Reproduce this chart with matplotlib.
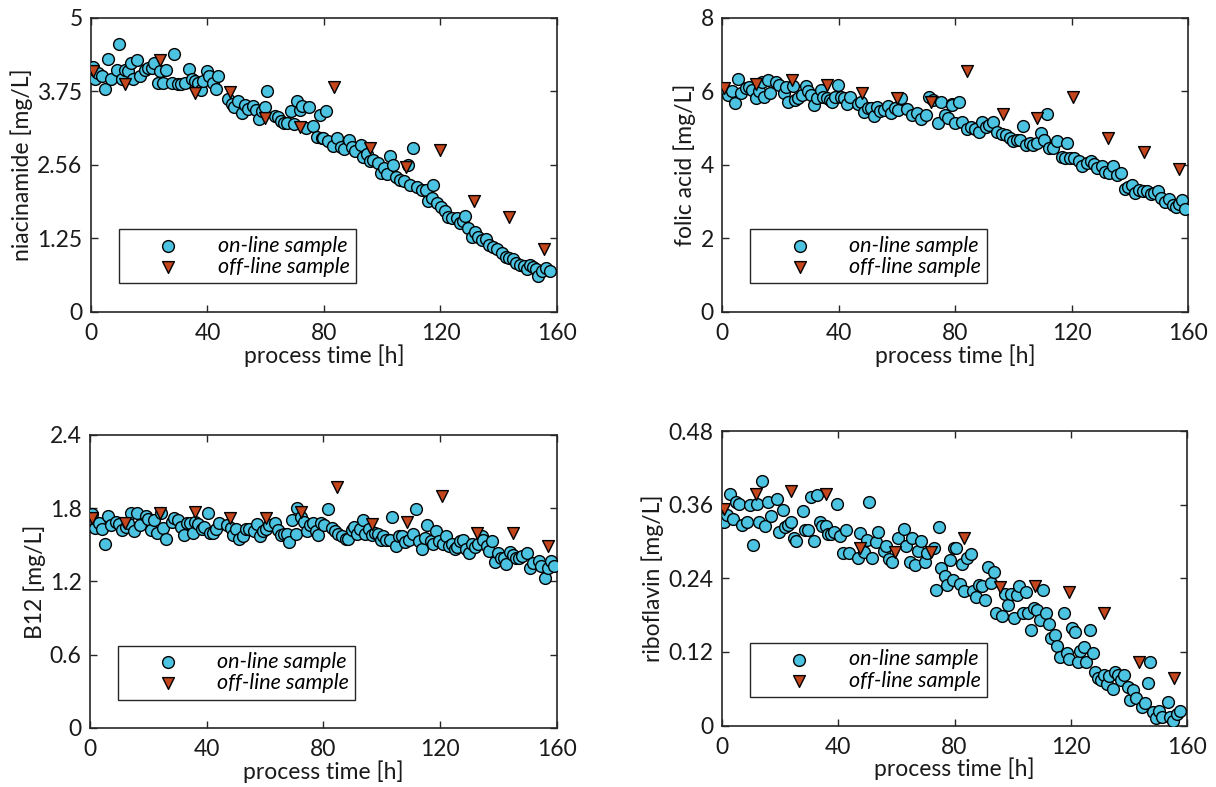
import matplotlib
matplotlib.use("Agg")
import matplotlib.pyplot as plt

plt.rcParams['font.family'] = ['Lato', 'DejaVu Sans']
plt.rcParams['font.size'] = 16.5

ONLINE_C = "#4cc3e1"
OFFLINE_C = "#c4461d"
AX_C = "#262626"
TXT_C = "#1a1a1a"

# ---- niacinamide ----
nia_on_t = [0.8, 1.4, 2.5, 3.7, 4.8, 5.7, 6.9, 8.8, 9.6, 10.8, 11.7, 12.8, 13.6, 14.5,
            15.7, 16.8, 18.5, 19.7, 20.8, 21.7, 22.9, 23.7, 24.8, 25.8, 27.7, 28.6,
            29.8, 30.8, 32.3, 33.8, 34.6, 35.7, 36.9, 37.8, 38.6, 39.9, 40.6, 41.8,
            42.8, 43.7, 47.2, 48.3, 49.2, 50.6, 51.7, 52.9, 53.8, 55.7, 56.5, 57.7,
            58.6, 59.7, 60.5, 63.2, 64.1, 65.2, 66.3, 67.4, 68.6, 69.8, 70.6, 71.8,
            72.6, 73.7, 74.9, 76.3, 77.5, 78.6, 79.4, 80.7, 79.8, 81.5, 83.2, 84.6,
            85.8, 86.9, 88.7, 89.8, 90.7, 92.6, 93.5, 94.7, 95.8, 97.0, 98.7, 99.5,
            100.6, 101.8, 102.7, 103.6, 104.8, 106.1, 107.5, 108.7, 109.5, 110.7,
            111.8, 113.5, 114.9, 115.8, 117.0, 117.5, 118.9, 120.1, 121.5, 122.7,
            123.8, 125.6, 126.7, 127.9, 128.6, 129.6, 130.7, 131.9, 133.0, 134.2,
            135.5, 136.8, 138.1, 139.5, 141.0, 142.4, 143.6, 145.0, 146.1, 147.3,
            148.6, 149.6, 150.7, 151.9, 152.8, 153.6, 154.8, 156.2, 157.6]
nia_on_v = [4.17, 3.96, 4.06, 4.01, 3.80, 4.31, 3.97, 4.11, 4.55, 3.97, 4.11, 4.09, 4.23,
            3.97, 4.28, 4.01, 4.11, 4.15, 4.15, 4.24, 3.90, 4.09, 3.90, 4.11, 3.90, 4.39,
            3.88, 3.88, 3.90, 4.14, 3.96, 3.92, 3.90, 3.78, 3.93, 4.09, 4.02, 3.89, 3.80,
            4.02, 3.62, 3.53, 3.49, 3.59, 3.39, 3.52, 3.46, 3.51, 3.44, 3.28, 3.41, 3.48,
            3.76, 3.33, 3.31, 3.25, 3.22, 3.22, 3.42, 3.19, 3.58, 3.43, 3.50, 3.12, 3.49,
            3.16, 2.98, 3.35, 2.95, 3.42, 2.96, 2.90, 2.82, 2.95, 2.81, 2.77, 2.92, 2.81,
            2.74, 2.84, 2.64, 2.69, 2.56, 2.59, 2.53, 2.37, 2.44, 2.35, 2.66, 2.50, 2.30,
            2.24, 2.22, 2.50, 2.16, 2.79, 2.13, 2.07, 2.07, 1.88, 1.93, 2.16, 1.85, 1.79,
            1.71, 1.62, 1.59, 1.59, 1.51, 1.55, 1.63, 1.42, 1.28, 1.36, 1.28, 1.23, 1.24,
            1.14, 1.11, 1.07, 1.00, 0.94, 0.91, 0.90, 0.83, 0.80, 0.79, 0.73, 0.80, 0.76,
            0.73, 0.61, 0.70, 0.74, 0.69]
nia_off_t = [0.8, 11.7, 23.7, 35.7, 47.7, 59.7, 71.8, 83.5, 95.8, 108.1, 119.8, 131.5,
             143.6, 155.6]
nia_off_v = [4.09, 3.88, 4.28, 3.73, 3.74, 3.30, 3.14, 3.83, 2.79, 2.46, 2.75, 1.89,
             1.62, 1.07]

# ---- folic acid ----
fol_on_t = [1.0, 2.0, 3.3, 4.5, 5.6, 6.5, 8.2, 9.4, 10.4, 11.6, 12.7, 13.6, 14.5, 15.7,
            16.6, 18.4, 19.7, 21.1, 22.0, 22.8, 24.3, 25.1, 26.2, 27.6, 28.7, 29.6,
            30.6, 31.7, 32.5, 33.9, 34.8, 36.0, 36.9, 37.9, 38.8, 39.9, 40.9, 41.9,
            42.8, 44.0, 46.8, 47.7, 48.9, 50.0, 51.2, 52.0, 53.1, 54.3, 55.7, 56.9,
            58.0, 59.4, 60.3, 61.3, 63.4, 65.1, 66.8, 68.3, 69.9, 71.1, 72.6, 74.1,
            75.2, 76.6, 77.7, 79.1, 78.9, 81.2, 80.0, 82.3, 84.0, 85.4, 86.9, 88.2,
            89.4, 90.6, 91.8, 93.2, 94.3, 96.0, 97.4, 98.7, 100.0, 101.2, 102.3, 103.5,
            104.4, 105.7, 106.9, 108.2, 109.4, 110.5, 111.5, 112.4, 113.8, 115.1, 116.6,
            118.3, 117.8, 119.5, 120.9, 122.4, 123.7, 125.2, 126.6, 127.7, 128.9, 130.4,
            131.5, 133.0, 134.4, 135.5, 136.9, 138.4, 139.5, 140.7, 141.8, 143.0, 144.5,
            145.8, 147.2, 148.4, 149.8, 150.6, 152.1, 153.6, 154.7, 155.9, 157.0, 157.8,
            159.0]
fol_on_v = [6.04, 5.91, 6.00, 5.68, 6.33, 5.95, 6.09, 6.11, 6.04, 5.81, 6.00, 6.27, 5.84,
            6.31, 5.97, 6.27, 6.18, 5.97, 6.11, 5.70, 6.15, 5.77, 5.81, 5.89, 6.15, 6.02,
            5.91, 5.62, 5.83, 6.04, 5.86, 5.83, 5.77, 5.71, 5.84, 6.18, 5.86, 5.81, 5.66,
            5.86, 5.65, 5.72, 5.45, 5.56, 5.56, 5.33, 5.58, 5.46, 5.49, 5.60, 5.42, 5.54,
            5.49, 5.81, 5.52, 5.36, 5.41, 5.25, 5.36, 5.86, 5.77, 5.15, 5.72, 5.36, 5.27,
            5.65, 5.63, 5.72, 5.13, 5.18, 4.99, 5.04, 4.99, 4.91, 5.18, 5.04, 5.10, 5.18,
            4.91, 4.84, 4.82, 4.73, 4.66, 4.68, 4.68, 5.07, 4.55, 4.59, 4.55, 4.59, 4.86,
            4.68, 5.40, 4.47, 4.46, 4.64, 4.23, 4.59, 4.18, 4.18, 4.18, 4.12, 3.98, 4.05,
            4.12, 4.03, 3.91, 3.98, 3.80, 3.77, 3.98, 3.73, 3.77, 3.34, 3.41, 3.46, 3.25,
            3.32, 3.30, 3.28, 3.21, 3.25, 3.28, 3.10, 2.98, 3.07, 2.91, 2.85, 2.93, 3.05,
            2.80]
fol_off_t = [0.5, 11.6, 23.9, 36.0, 47.9, 59.9, 71.9, 84.2, 96.4, 108.3, 120.6, 132.6,
             144.9, 157.0]
fol_off_v = [6.09, 6.20, 6.31, 6.18, 5.97, 5.83, 5.72, 6.56, 5.38, 5.27, 5.86, 4.73,
             4.36, 3.89]

# ---- B12 ----
b12_on_t = [0.8, 1.7, 3.1, 4.0, 5.1, 6.1, 7.2, 8.9, 10.0, 11.1, 12.2, 13.1, 14.0, 15.2,
            16.2, 17.2, 19.2, 20.0, 20.9, 22.0, 23.1, 24.3, 25.1, 26.0, 28.0, 28.9,
            30.0, 31.1, 32.2, 33.1, 34.3, 35.2, 36.0, 37.1, 38.3, 39.2, 40.3, 41.1,
            42.3, 43.2, 44.2, 46.8, 48.2, 49.1, 50.2, 51.2, 52.3, 53.4, 54.6, 56.3,
            57.3, 58.2, 59.2, 60.2, 61.3, 63.4, 64.5, 65.4, 66.6, 67.4, 68.3, 69.3,
            70.5, 71.1, 72.3, 73.4, 74.2, 75.4, 76.5, 77.3, 78.2, 79.1, 80.3, 81.7,
            83.0, 84.1, 85.1, 86.4, 87.6, 88.5, 89.7, 90.6, 91.6, 92.5, 93.4, 94.4,
            95.6, 96.5, 97.6, 98.6, 99.6, 100.5, 101.4, 102.8, 103.6, 104.8, 105.9,
            107.0, 108.1, 109.4, 110.8, 111.7, 112.7, 113.8, 114.7, 115.5, 116.7, 117.6,
            118.5, 119.7, 120.8, 121.9, 123.0, 123.9, 125.1, 125.9, 126.8, 127.7, 128.7,
            129.9, 130.8, 132.0, 133.1, 134.2, 134.7, 135.9, 136.8, 137.8, 138.8, 139.9,
            140.8, 141.8, 142.7, 143.9, 145.0, 146.1, 147.1, 148.1, 149.8, 150.7, 151.9,
            153.8, 154.7, 155.9, 156.8, 158.0, 159.1]
b12_on_v = [1.75, 1.64, 1.68, 1.63, 1.51, 1.74, 1.66, 1.69, 1.67, 1.62, 1.65, 1.68, 1.76,
            1.61, 1.76, 1.66, 1.74, 1.71, 1.62, 1.70, 1.60, 1.76, 1.64, 1.55, 1.69, 1.72,
            1.70, 1.65, 1.58, 1.68, 1.68, 1.60, 1.69, 1.67, 1.63, 1.65, 1.76, 1.60, 1.60,
            1.63, 1.68, 1.66, 1.64, 1.58, 1.63, 1.55, 1.57, 1.63, 1.63, 1.61, 1.67, 1.57,
            1.61, 1.63, 1.66, 1.68, 1.62, 1.58, 1.59, 1.59, 1.52, 1.70, 1.59, 1.80, 1.73,
            1.69, 1.61, 1.66, 1.68, 1.61, 1.58, 1.68, 1.66, 1.79, 1.64, 1.61, 1.59, 1.57,
            1.55, 1.55, 1.62, 1.65, 1.59, 1.63, 1.70, 1.59, 1.63, 1.58, 1.60, 1.59, 1.54,
            1.57, 1.54, 1.54, 1.73, 1.49, 1.57, 1.57, 1.52, 1.54, 1.59, 1.79, 1.53, 1.47,
            1.56, 1.66, 1.53, 1.51, 1.61, 1.53, 1.51, 1.57, 1.49, 1.51, 1.47, 1.48, 1.53,
            1.54, 1.47, 1.43, 1.51, 1.48, 1.51, 1.57, 1.54, 1.49, 1.45, 1.53, 1.36, 1.43,
            1.39, 1.39, 1.34, 1.44, 1.42, 1.39, 1.39, 1.41, 1.43, 1.31, 1.35, 1.37, 1.33,
            1.23, 1.31, 1.37, 1.33]
b12_off_t = [0.8, 12.0, 24.0, 36.0, 48.0, 60.2, 72.3, 84.5, 96.5, 108.7, 120.7, 132.7,
             144.8, 156.8]
b12_off_v = [1.72, 1.68, 1.76, 1.77, 1.72, 1.72, 1.77, 1.97, 1.67, 1.69, 1.90, 1.60,
             1.60, 1.49]

# ---- riboflavin ----
rib_on_t = [0.8, 1.6, 2.7, 3.9, 4.7, 5.8, 6.8, 8.7, 9.6, 10.8, 11.9, 12.7, 13.9, 14.8,
            15.7, 16.7, 18.8, 19.6, 20.8, 21.6, 22.6, 23.7, 24.7, 25.6, 27.7, 28.5,
            29.6, 30.6, 31.6, 32.7, 33.6, 34.4, 35.7, 36.5, 37.4, 38.6, 39.7, 40.5,
            41.7, 42.8, 43.7, 46.8, 47.6, 48.9, 49.7, 50.5, 51.7, 52.8, 53.7, 55.6,
            56.5, 57.3, 58.5, 60.5, 62.5, 63.4, 64.5, 65.5, 66.5, 67.4, 68.6, 69.7,
            70.5, 72.8, 73.5, 74.5, 75.4, 76.6, 77.5, 78.6, 79.3, 79.8, 80.6, 81.7,
            83.4, 82.6, 84.2, 85.5, 86.3, 87.4, 88.4, 89.5, 90.5, 91.5, 92.6, 93.5,
            94.3, 96.4, 97.2, 98.5, 99.5, 100.6, 101.5, 102.3, 103.5, 104.6, 105.4,
            106.4, 107.5, 108.3, 109.4, 110.6, 111.5, 112.4, 113.2, 114.5, 115.3, 116.4,
            117.6, 118.6, 119.5, 120.4, 121.4, 122.4, 123.3, 124.4, 125.2, 126.6, 127.5,
            128.3, 129.4, 130.4, 131.3, 132.3, 133.2, 134.4, 135.2, 136.1, 137.3, 138.4,
            139.6, 140.5, 141.5, 142.4, 144.5, 145.5, 146.4, 147.3, 148.4, 149.3, 150.4,
            151.5, 153.3, 154.2, 155.2, 156.4, 157.5]
rib_on_v = [0.332, 0.343, 0.377, 0.336, 0.364, 0.361, 0.327, 0.332, 0.359, 0.294, 0.361,
            0.332, 0.399, 0.326, 0.365, 0.342, 0.369, 0.316, 0.351, 0.324, 0.327, 0.331,
            0.305, 0.301, 0.349, 0.319, 0.319, 0.372, 0.300, 0.376, 0.332, 0.326, 0.325,
            0.312, 0.312, 0.316, 0.361, 0.309, 0.282, 0.319, 0.282, 0.273, 0.313, 0.283,
            0.302, 0.364, 0.273, 0.299, 0.316, 0.284, 0.293, 0.271, 0.266, 0.305, 0.320,
            0.293, 0.267, 0.305, 0.262, 0.284, 0.300, 0.266, 0.281, 0.289, 0.221, 0.324,
            0.256, 0.243, 0.229, 0.270, 0.237, 0.290, 0.290, 0.230, 0.219, 0.264, 0.273,
            0.280, 0.220, 0.209, 0.229, 0.227, 0.204, 0.259, 0.233, 0.251, 0.183, 0.178,
            0.215, 0.196, 0.215, 0.175, 0.213, 0.227, 0.184, 0.218, 0.184, 0.156, 0.191,
            0.188, 0.172, 0.221, 0.183, 0.165, 0.142, 0.148, 0.130, 0.111, 0.183, 0.119,
            0.109, 0.159, 0.152, 0.104, 0.122, 0.128, 0.104, 0.155, 0.118, 0.087, 0.078,
            0.074, 0.083, 0.067, 0.081, 0.059, 0.088, 0.083, 0.074, 0.083, 0.063, 0.042,
            0.058, 0.045, 0.031, 0.037, 0.069, 0.104, 0.022, 0.012, 0.024, 0.014, 0.038,
            0.014, 0.007, 0.018, 0.023]
rib_off_t = [0.5, 11.6, 23.7, 35.6, 47.6, 59.6, 71.8, 83.4, 95.5, 107.7, 119.5, 131.3,
             143.5, 155.6]
rib_off_v = [0.353, 0.377, 0.382, 0.378, 0.290, 0.283, 0.283, 0.305, 0.225, 0.227, 0.218,
             0.183, 0.104, 0.078]

panels = [
    # (rect, on_t, on_v, off_t, off_v, ylabel, yticks, yticklabels)
    ([0.0748, 0.6036, 0.3832, 0.3736], nia_on_t, nia_on_v, nia_off_t, nia_off_v,
     "niacinamide [mg/L]", [0, 1.25, 2.5, 3.75, 5], ["0", "1.25", "2.56", "3.75", "5"]),
    ([0.5938, 0.6036, 0.3832, 0.3736], fol_on_t, fol_on_v, fol_off_t, fol_off_v,
     "folic acid [mg/L]", [0, 2, 4, 6, 8], ["0", "2", "4", "6", "8"]),
    ([0.0740, 0.0750, 0.3840, 0.3723], b12_on_t, b12_on_v, b12_off_t, b12_off_v,
     "B12 [mg/L]", [0, 0.6, 1.2, 1.8, 2.4], ["0", "0.6", "1.2", "1.8", "2.4"]),
    ([0.5938, 0.0781, 0.3824, 0.3742], rib_on_t, rib_on_v, rib_off_t, rib_off_v,
     "riboflavin [mg/L]", [0, 0.12, 0.24, 0.36, 0.48], ["0", "0.12", "0.24", "0.36", "0.48"]),
]

fig = plt.figure(figsize=(12.16, 7.87), dpi=100)

for rect, on_t, on_v, off_t, off_v, ylab, yt, ytl in panels:
    ax = fig.add_axes(rect)
    ax.scatter(on_t, on_v, s=72, marker="o", facecolor=ONLINE_C, edgecolor="black",
               linewidth=1.0, label="on-line sample", zorder=3)
    ax.scatter(off_t, off_v, s=72, marker="v", facecolor=OFFLINE_C, edgecolor="black",
               linewidth=1.0, label="off-line sample", zorder=4)
    ax.set_xlim(0, 160)
    ax.set_ylim(yt[0], yt[-1])
    ax.set_xticks([0, 40, 80, 120, 160])
    ax.set_yticks(yt)
    ax.set_yticklabels(ytl)
    ax.tick_params(axis="both", direction="in", top=True, right=True, length=5,
                   width=1.0, colors=AX_C, labelcolor=TXT_C, labelsize=16.5)
    ax.tick_params(axis="x", pad=8)
    ax.tick_params(axis="y", pad=6)
    for sp in ax.spines.values():
        sp.set_color(AX_C)
        sp.set_linewidth(1.2)
    ax.set_xlabel("process time [h]", fontsize=16.5, labelpad=0, color=TXT_C)
    ax.set_ylabel(ylab, fontsize=16.5, labelpad=3, color=TXT_C)
    leg = ax.legend(loc="lower left", bbox_to_anchor=(0.06, 0.097), borderaxespad=0,
                    prop={"style": "italic", "size": 15.5},
                    handlelength=4.0, handletextpad=0.3, borderpad=0.3,
                    labelspacing=0.05, fancybox=False, framealpha=1, edgecolor=AX_C)
    leg.get_frame().set_linewidth(1.0)

fig.savefig("out.png", dpi=100)
